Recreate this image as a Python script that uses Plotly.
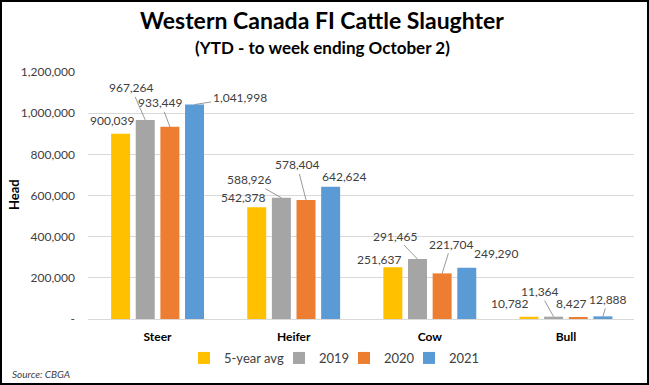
import plotly.graph_objects as go

categories = ["Steer", "Heifer", "Cow", "Bull"]
series_names = ["5-year avg", "2019", "2020", "2021"]
avg5 = [900039, 542378, 251637, 10782]
y2019 = [967264, 588926, 291465, 11364]
y2020 = [933449, 578404, 221704, 8427]
y2021 = [1041998, 642624, 249290, 12888]
tick_vals = [0, 200000, 400000, 600000, 800000, 1000000, 1200000]
tick_text = ["-", "200,000", "400,000", "600,000", "800,000", "1,000,000", "1,200,000"]

colors = ["#FFC000", "#A5A5A5", "#ED7D31", "#5B9BD5"]
series = [avg5, y2019, y2020, y2021]
legend_widths = [50, 20, 20, 30]

W, H = 649, 385
L, R, T, B = 88, 15, 72, 66
PW, PH = W - L - R, H - T - B
BARGAP = 0.276
GROUPGAP = 0.23

fig = go.Figure()
for name, vals, col, lw in zip(series_names, series, colors, legend_widths):
    fig.add_trace(go.Bar(x=categories, y=vals, name=name, legendwidth=lw,
                         marker=dict(color=col, line=dict(width=0))))

# label offsets (text centre relative to bar top, in pixels) and whether a leader line is drawn
offsets = [
    [(-8, -13, False), (-14, -32, True), (-9, -24, True), (45, -7, True)],
    [(-13, -10, False), (-32, -18, True), (-9, -35, True), (14, -10, False)],
    [(-13, -8, False), (-22, -23, True), (9, -29, True), (30, -14, False)],
    [(-19, -13, False), (-14, -25, True), (-7, -14, False), (5, -17, True)],
]

cat_px = PW / len(categories)
per_bar = cat_px * (1 - BARGAP) / len(series)
annotations = []
for ci, cat in enumerate(categories):
    for si, vals in enumerate(series):
        ax, ay, leader = offsets[ci][si]
        annotations.append(dict(
            x=cat, y=vals[ci], xref="x", yref="y",
            xshift=(si - 1.5) * per_bar,
            text=f"{vals[ci]:,}", showarrow=True, arrowhead=0,
            arrowwidth=0.8, arrowcolor="#7f7f7f" if leader else "rgba(0,0,0,0)",
            ax=ax, ay=ay, axref="pixel", ayref="pixel", standoff=0,
            font=dict(family="Lato", size=12, color="#404040"),
        ))

def py(p):
    return (H - B - p) / PH

def px(p):
    return (p - L) / PW

annotations += [
    dict(text="<b>Western Canada FI Cattle Slaughter</b>", x=px(322), y=py(20), xref="paper", yref="paper",
         showarrow=False, font=dict(family="Lato", size=23, color="#000000"), xanchor="center", yanchor="middle"),
    dict(text="<b>(YTD - to week ending October 2)</b>", x=px(322), y=py(47), xref="paper", yref="paper",
         showarrow=False, font=dict(family="Lato", size=17, color="#000000"), xanchor="center", yanchor="middle"),
    dict(text="<i>Source: CBGA</i>", x=px(10), y=py(374), xref="paper", yref="paper",
         showarrow=False, font=dict(family="Lato", size=10, color="#404040"), xanchor="left", yanchor="middle"),
    dict(text="<b>Head</b>", x=px(14), y=py(195), xref="paper", yref="paper", textangle=-90,
         showarrow=False, font=dict(family="Lato", size=13, color="#000000"), xanchor="center", yanchor="middle"),
]

fig.update_layout(
    width=W, height=H,
    margin=dict(l=L, r=R, t=T, b=B, autoexpand=False),
    paper_bgcolor="white", plot_bgcolor="white",
    barmode="group", bargap=BARGAP, bargroupgap=GROUPGAP,
    showlegend=True,
    legend=dict(orientation="h", x=px(184), y=py(358), xanchor="left", yanchor="middle",
                font=dict(family="Lato", size=13, color="#404040"), itemwidth=30,
                traceorder="normal"),
    annotations=annotations,
    shapes=[dict(type="rect", xref="paper", yref="paper", x0=px(1), x1=px(648), y0=py(384), y1=py(1),
                 line=dict(color="#000000", width=2), fillcolor="rgba(0,0,0,0)", layer="above")],
    font=dict(family="Lato"),
)
fig.update_xaxes(showgrid=False, showline=True, linecolor="#d9d9d9", linewidth=1,
                 tickfont=dict(family="Lato", size=12, color="#000000"),
                 tickprefix="<b>", ticksuffix="</b>", ticks="", ticklabelstandoff=7)
fig.update_yaxes(range=[0, 1200000], tickvals=tick_vals, ticktext=tick_text,
                 showgrid=True, gridcolor="#d9d9d9", gridwidth=1, zeroline=False, showline=False,
                 tickfont=dict(family="Lato", size=12, color="#404040"), ticks="", ticklabelstandoff=12)

fig.write_html("out.html", config={"displayModeBar": False},
               post_script="document.body.style.margin='0';document.body.style.padding='0';")
